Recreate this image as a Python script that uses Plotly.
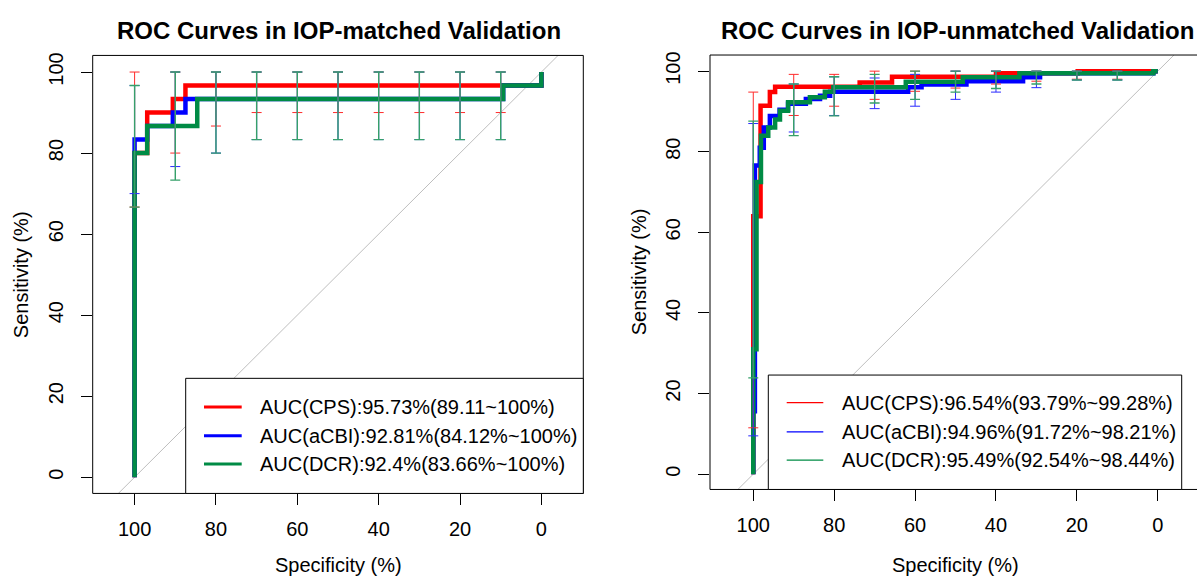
import plotly.graph_objects as go

W, H = 1197, 576
FONT = "Liberation Sans, Arial, sans-serif"
RED, BLUE, GREEN = "#FF0000", "#0000FF", "#008B45"
RED_CI, BLUE_CI, GREEN_CI = "#FF2A2A", "#2A2AFF", "#36A06A"

# ---------------- IOP-matched validation (left) ----------------
m_cps_spec = [100, 100, 96.9, 96.9, 90.6, 90.6, 87.5, 87.5, 0, 0]
m_cps_sens = [0, 80, 80, 90, 90, 93.33, 93.33, 96.67, 96.67, 100]
m_acbi_spec = [100, 100, 96.9, 96.9, 90.6, 90.6, 87.5, 87.5, 9.4, 9.4, 0, 0]
m_acbi_sens = [0, 83.33, 83.33, 86.67, 86.67, 90, 90, 93.33, 93.33, 96.67, 96.67, 100]
m_dcr_spec = [100, 100, 96.9, 96.9, 84.6, 84.6, 9.4, 9.4, 0, 0]
m_dcr_sens = [0, 80, 80, 86.67, 86.67, 93.33, 93.33, 96.67, 96.67, 100]

ci_spec = [100, 90, 80, 70, 60, 50, 40, 30, 20, 10]
m_cps_lo = [66.67, 80, 86.67, 90, 90, 90, 90, 90, 90, 90]
m_cps_hi = [100, 100, 100, 100, 100, 100, 100, 100, 100, 100]
m_acbi_lo = [70, 76.67, 80, 83.33, 83.33, 83.33, 83.33, 83.33, 83.33, 83.33]
m_acbi_hi = [96.67, 100, 100, 100, 100, 100, 100, 100, 100, 100]
m_dcr_lo = [66.67, 73.33, 80, 83.33, 83.33, 83.33, 83.33, 83.33, 83.33, 83.33]
m_dcr_hi = [96.67, 100, 100, 100, 100, 100, 100, 100, 100, 100]

m_labels = ["AUC(CPS):95.73%(89.11~100%)",
            "AUC(aCBI):92.81%(84.12%~100%)",
            "AUC(DCR):92.4%(83.66%~100%)"]

# ---------------- IOP-unmatched validation (right) ----------------
u_cps_spec = [100, 100, 98.2, 98.2, 95.9, 95.9, 94.6, 94.6, 73.7, 73.7, 65.7, 65.7,
              40, 40, 19.8, 19.8, 0]
u_cps_sens = [0, 64, 64, 91.4, 91.4, 94.8, 94.8, 96.1, 96.1, 97.2, 97.2, 98.6,
              98.6, 99.5, 99.5, 100, 100]
u_acbi_spec = [100, 100, 99.6, 99.6, 98.4, 98.4, 97.4, 97.4, 95.9, 95.9, 93.5, 93.5,
               91.4, 91.4, 87, 87, 83.5, 83.5, 81, 81, 61.7, 61.7, 58.4, 58.4,
               47.3, 47.3, 33.3, 33.3, 29.1, 29.1, 1.1, 1.1, 0]
u_acbi_sens = [0, 15.6, 15.6, 76.6, 76.6, 81, 81, 86, 86, 88.9, 88.9, 90.4,
               90.4, 91.9, 91.9, 93.1, 93.1, 93.9, 93.9, 94.9, 94.9, 96.0, 96.0, 96.7,
               96.7, 97.5, 97.5, 98.5, 98.5, 99.5, 99.5, 100, 100]
u_dcr_spec = [100, 100, 99.2, 99.2, 98.1, 98.1, 96.3, 96.3, 94.6, 94.6, 93.4, 93.4,
              91.4, 91.4, 86, 86, 82.3, 82.3, 80.2, 80.2, 62.3, 62.3, 48.2, 48.2,
              34.2, 34.2, 1.1, 1.1, 0]
u_dcr_sens = [0, 31, 31, 72.5, 72.5, 84, 84, 86, 86, 88, 88, 90.2,
              90.2, 92.3, 92.3, 93.5, 93.5, 94.9, 94.9, 96.0, 96.0, 97.4, 97.4, 98.5,
              98.5, 99.5, 99.5, 100, 100]

u_cps_lo = [11.5, 89, 91.3, 93, 95, 95.8, 96.8, 97.5, 98, 98]
u_cps_hi = [94.8, 99.2, 99.2, 100, 100, 100, 100, 100, 100, 100]
u_acbi_lo = [9.5, 84.9, 89, 90.7, 91.3, 93, 94.8, 95.9, 97.8, 97.8]
u_acbi_hi = [87, 96.8, 98.6, 98.3, 99.2, 100, 100, 100, 100, 100]
u_dcr_lo = [23.9, 84, 88.9, 92.1, 93, 94.8, 95.7, 96.8, 97.8, 97.8]
u_dcr_hi = [87.6, 96.8, 98.6, 99.2, 100, 100, 100, 100, 100, 100]

u_labels = ["AUC(CPS):96.54%(93.79%~99.28%)",
            "AUC(aCBI):94.96%(91.72%~98.21%)",
            "AUC(DCR):95.49%(92.54%~98.44%)"]

titles = ["ROC Curves in IOP-matched Validation", "ROC Curves in IOP-unmatched Validation"]
tick_vals = [100, 80, 60, 40, 20, 0]
tick_text = ["100", "80", "60", "40", "20", "0"]
chance_spec = [130, -30]
chance_sens = [-30, 130]

# ---------------- layout geometry (pixels) ----------------
def px(x):
    return x / W

def py(y):
    return 1 - y / H

L = dict(x0=92.7, x1=583.3, y0=52.7, y1=493.0, xr=[110.3, -10.3], yr=[-4.0, 104.1])
R = dict(x0=710.0, x1=1197.0, y0=52.3, y1=489.0, xr=[110.7, -9.7], yr=[-3.8, 104.0])

fig = go.Figure()


def add_panel(xa, ya, curves, cis):
    fig.add_trace(go.Scatter(x=chance_spec, y=chance_sens, mode="lines",
                             line=dict(color="#BEBEBE", width=1), xaxis=xa, yaxis=ya,
                             showlegend=False, hoverinfo="skip"))
    for spec, sens, col, w in curves:
        fig.add_trace(go.Scatter(x=spec, y=sens, mode="lines",
                                 line=dict(color=col, width=w), xaxis=xa, yaxis=ya,
                                 showlegend=False))
    for lo, hi, col, th in cis:
        mid = [(a + b) / 2 for a, b in zip(lo, hi)]
        fig.add_trace(go.Scatter(
            x=ci_spec, y=mid, mode="markers",
            marker=dict(size=0, opacity=0),
            error_y=dict(type="data", symmetric=False,
                         array=[b - m for b, m in zip(hi, mid)],
                         arrayminus=[m - a for a, m in zip(lo, mid)],
                         color=col, thickness=th, width=5),
            xaxis=xa, yaxis=ya, showlegend=False, hoverinfo="skip"))


add_panel("x", "y",
          [(m_cps_spec, m_cps_sens, RED, 4.5),
           (m_acbi_spec, m_acbi_sens, BLUE, 4.5),
           (m_dcr_spec, m_dcr_sens, GREEN, 4.5)],
          [(m_cps_lo, m_cps_hi, RED_CI, 1), (m_acbi_lo, m_acbi_hi, BLUE_CI, 1),
           (m_dcr_lo, m_dcr_hi, GREEN_CI, 1.4)])
add_panel("x2", "y2",
          [(u_cps_spec, u_cps_sens, RED, 4.5),
           (u_acbi_spec, u_acbi_sens, BLUE, 4.5),
           (u_dcr_spec, u_dcr_sens, GREEN, 4.5)],
          [(u_cps_lo, u_cps_hi, RED_CI, 1), (u_acbi_lo, u_acbi_hi, BLUE_CI, 1),
           (u_dcr_lo, u_dcr_hi, GREEN_CI, 1.4)])

tickfont = dict(family=FONT, size=20, color="black")


def xaxis(p, anchor):
    return dict(domain=[px(p["x0"]), px(p["x1"])], range=p["xr"], tickvals=tick_vals,
                ticktext=tick_text, ticks="outside", ticklen=11, tickwidth=1,
                tickcolor="black", showgrid=False, zeroline=False, showline=False,
                tickfont=tickfont, ticklabelstandoff=7, anchor=anchor)


def yaxis(p, anchor):
    return dict(domain=[py(p["y1"]), py(p["y0"])], range=p["yr"], tickvals=tick_vals,
                ticktext=tick_text, ticks="outside", ticklen=11, tickwidth=1,
                tickcolor="black", showgrid=False, zeroline=False, showline=False,
                tickfont=tickfont, tickangle=-90, ticklabelstandoff=10, anchor=anchor)


shapes = []
annotations = []


def frame(p, leg_box, leg_line_x, text_x, row_y, labels, leg_w, title, title_x, right_pad):
    shapes.append(dict(type="rect", xref="paper", yref="paper", layer="above",
                       x0=px(p["x0"]), x1=px(p["x1"] + right_pad),
                       y0=py(p["y1"]), y1=py(p["y0"]),
                       line=dict(color="black", width=1), fillcolor="rgba(0,0,0,0)"))
    bx0, by0, bx1 = leg_box
    shapes.append(dict(type="rect", xref="paper", yref="paper", layer="above",
                       x0=px(bx0), x1=px(bx1), y0=py(p["y1"]), y1=py(by0),
                       line=dict(color="black", width=1), fillcolor="white"))
    for ry, col, lab in zip(row_y, [RED, BLUE, GREEN], labels):
        shapes.append(dict(type="line", xref="paper", yref="paper", layer="above",
                           x0=px(leg_line_x[0]), x1=px(leg_line_x[1]), y0=py(ry), y1=py(ry),
                           line=dict(color=col, width=leg_w)))
        annotations.append(dict(text=lab, xref="paper", yref="paper", x=px(text_x), y=py(ry),
                                xanchor="left", yanchor="middle", showarrow=False,
                                font=dict(family=FONT, size=20, color="black")))
    cx = (p["x0"] + p["x1"] + right_pad) / 2
    annotations.append(dict(text="<b>" + title + "</b>", xref="paper", yref="paper",
                            x=px(title_x), y=py(28), xanchor="center", yanchor="middle",
                            showarrow=False, font=dict(family=FONT, size=24, color="black")))
    annotations.append(dict(text="Specificity (%)", xref="paper", yref="paper",
                            x=px(cx), y=py(565), xanchor="center", yanchor="middle",
                            showarrow=False, font=dict(family=FONT, size=20, color="black")))
    annotations.append(dict(text="Sensitivity (%)", xref="paper", yref="paper",
                            x=px(p["x0"] - 71), y=py((p["y0"] + p["y1"]) / 2),
                            xanchor="center", yanchor="middle", textangle=-90,
                            showarrow=False, font=dict(family=FONT, size=20, color="black")))


frame(L, (185.7, 377.3, 583.3), (204, 241.7), 257.7, [406.0, 435.0, 463.5], m_labels, 3,
      titles[0], 339, 0)
frame(R, (768.3, 374.0, 1181.7), (786.7, 823.3), 840, [401.8, 431.2, 459.5], u_labels, 1.3,
      titles[1], 957.5, 4)

fig.update_layout(
    width=W, height=H, autosize=False,
    margin=dict(l=0, r=0, t=0, b=0),
    paper_bgcolor="white", plot_bgcolor="white",
    xaxis=xaxis(L, "y"), yaxis=yaxis(L, "x"), xaxis2=xaxis(R, "y2"), yaxis2=yaxis(R, "x2"),
    shapes=shapes, annotations=annotations, showlegend=False,
    font=dict(family=FONT, color="black"),
)
fig.write_html("out.html", config={"displayModeBar": False},
               post_script="document.body.style.margin='0';document.body.style.overflow='hidden';")
